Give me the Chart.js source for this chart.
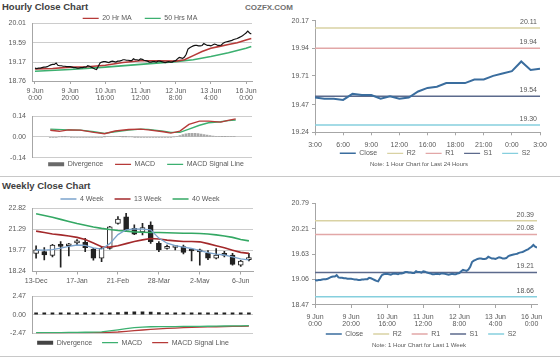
<!DOCTYPE html>
<html><head><meta charset="utf-8">
<script src="https://cdn.jsdelivr.net/npm/chart.js@4.4.1/dist/chart.umd.min.js"></script>
<style>
html,body{margin:0;padding:0;background:#fff;width:560px;height:363px;overflow:hidden;position:relative;font-family:"Liberation Sans",Arial,sans-serif}
canvas{position:absolute}
.t{position:absolute;font-weight:bold;color:#404040;font-size:9.5px;white-space:nowrap}
.sep{position:absolute;left:0;width:560px;height:1px;background:#c8c8c8}
</style></head><body>
<div class="t" style="left:2px;top:1px">Hourly Close Chart</div>
<div class="t" style="left:245px;top:3px;color:#707070;font-size:8px">COZFX.COM</div>
<div class="t" style="left:2px;top:180px">Weekly Close Chart</div>
<div class="sep" style="top:176px"></div>
<div class="sep" style="top:356px"></div>
<canvas id="cA" width="262" height="100" style="left:0;top:10px"></canvas>
<canvas id="cB" width="262" height="70" style="left:0;top:106px"></canvas>
<canvas id="cC" width="280" height="176" style="left:280px;top:0"></canvas>
<canvas id="cD" width="262" height="108" style="left:0;top:178px"></canvas>
<canvas id="cE" width="262" height="70" style="left:0;top:286px"></canvas>
<canvas id="cF" width="280" height="178" style="left:280px;top:178px"></canvas>
<script>
// ---------------- DATA ----------------
const hourClose = [
19.04,19.03,19.04,19.04,19.05,19.06,19.06,19.07,19.09,19.11,
19.12,19.12,19.15,19.10,19.09,19.09,19.08,19.08,19.07,19.07,
19.07,19.06,19.05,19.05,19.04,19.04,19.05,19.05,19.06,19.06,
19.09,19.08,19.06,19.04,19.02,19.01,19.08,19.15,19.17,19.18,
19.18,19.17,19.16,19.18,19.19,19.18,19.17,19.19,19.19,19.20,
19.22,19.22,19.21,19.21,19.20,19.20,19.24,19.22,19.22,19.21,
19.24,19.23,19.21,19.20,19.19,19.17,19.17,19.18,19.18,19.17,
19.19,19.19,19.18,19.17,19.16,19.17,19.18,19.17,19.17,19.19,
19.20,19.24,19.27,19.26,19.25,19.28,19.34,19.45,19.48,19.50,
19.52,19.53,19.53,19.52,19.52,19.53,19.57,19.55,19.53,19.53,
19.52,19.54,19.56,19.55,19.53,19.53,19.54,19.58,19.60,19.61,
19.62,19.63,19.64,19.66,19.67,19.68,19.70,19.72,19.74,19.77,
19.80,19.84,19.80,19.78];
const hourTickIdx = [0,20,40,60,80,100,120];
const hourTickLabels = [['9 Jun','0:00'],['9 Jun','20:00'],['10 Jun','16:00'],['11 Jun','12:00'],['12 Jun','8:00'],['13 Jun','4:00'],['16 Jun','0:00']];
const ma20 = [[0,19.02],[10,19.03],[20,19.06],[30,19.07],[40,19.10],[50,19.16],[60,19.20],[70,19.20],[80,19.19],[85,19.22],[90,19.31],[95,19.40],[100,19.47],[105,19.51],[110,19.55],[115,19.59],[120,19.65],[123,19.68]];
const ma50 = [[0,18.97],[20,19.01],[40,19.06],[60,19.12],[80,19.18],[90,19.22],[100,19.29],[110,19.37],[120,19.47],[123,19.51]];
const macdHour = [[0,0.045],[6,0.038],[12,0.048],[20,0.046],[29,0.031],[36,0.022],[43,0.040],[52,0.050],[60,0.053],[65,0.048],[75,0.035],[80,0.026],[86,0.039],[92,0.085],[99,0.107],[105,0.107],[113,0.100],[118,0.112],[123,0.122]];
const signalHour = [[0,0.053],[12,0.048],[20,0.046],[29,0.035],[36,0.024],[43,0.035],[52,0.046],[60,0.053],[65,0.051],[75,0.039],[80,0.031],[86,0.031],[92,0.053],[99,0.079],[105,0.096],[113,0.103],[118,0.110],[123,0.114]];
// divergence sampled every 2 hours (hour index = 2*k)
const divHour = [
-0.004,-0.003,-0.002,0.000,0.001,0.001,0.000,-0.001,-0.002,-0.003,-0.003,-0.003,-0.002,-0.002,-0.003,-0.004,-0.004,-0.002,
0.001,0.004,0.005,0.004,0.003,0.002,0.001,0.001,0.000,0.000,-0.001,-0.001,-0.002,-0.002,-0.003,-0.003,-0.003,-0.004,-0.004,-0.004,-0.004,-0.004,
-0.003,0.000,0.004,0.010,0.016,0.021,0.024,0.025,0.024,0.022,0.019,0.016,0.012,0.009,0.006,0.004,0.003,0.002,0.002,0.003,0.004,0.004];
const dayClose = [19.53,19.52,19.52,19.51,19.56,19.55,19.55,19.52,19.54,19.52,19.53,19.58,19.61,19.62,19.65,19.65,19.65,19.68,19.68,19.71,19.73,19.75,19.83,19.76,19.77];
const dayTickIdx = [0,3,6,9,12,15,18,21,24];
const dayTickLabels = ['3:00','6:00','9:00','12:00','16:00','18:00','21:00','0:00','3:00'];
const pivotNames = ['R2','R1','S1','S2'];
const pivotDay = [20.11,19.94,19.54,19.30];
const pivotWeek = [20.39,20.08,19.21,18.66];
const noteDay = 'Note: 1 Hour Chart for Last 24 Hours';
const noteWeek = 'Note: 1 Hour Chart for Last 1 Week';

const weekLabels = ['13-Dec','20-Dec','27-Dec','3-Jan','10-Jan','17-Jan','24-Jan','31-Jan','7-Feb','14-Feb','21-Feb','28-Feb','7-Mar','14-Mar','21-Mar','28-Mar','4-Apr','11-Apr','18-Apr','25-Apr','2-May','9-May','16-May','23-May','30-May','6-Jun','13-Jun'];
const weekOpen  = [19.55,19.67,19.40,20.15,20.10,20.30,20.34,19.86,19.20,19.91,21.71,22.19,21.35,21.10,21.59,20.27,19.91,19.97,20.03,19.80,19.70,19.55,19.20,19.45,19.43,18.70,19.10];
const weekHigh  = [20.10,19.96,20.20,20.40,20.27,20.55,20.63,19.91,20.03,21.50,22.20,22.43,21.60,21.71,21.83,20.40,20.15,20.10,20.15,19.90,19.85,19.75,19.90,19.70,19.55,19.05,19.55];
const weekLow   = [19.20,19.07,19.30,18.55,19.36,20.10,19.67,19.05,18.95,19.85,21.65,21.11,20.90,20.87,20.27,19.67,19.85,19.80,19.50,19.00,18.70,19.10,19.15,19.30,18.70,18.60,19.00];
const weekClose = [19.80,19.43,20.15,20.05,20.15,20.35,19.95,19.20,19.91,21.47,22.02,21.23,20.94,21.40,20.39,19.79,20.03,20.03,19.62,19.72,19.65,19.20,19.43,19.40,18.75,19.00,19.20];
const ma4w  = [19.79,19.78,19.82,19.92,20.05,20.15,20.12,19.95,19.85,20.25,20.90,21.25,21.32,21.30,21.25,20.65,20.28,20.10,20.00,19.90,19.75,19.60,19.50,19.43,19.30,19.15,19.08];
const ma13w = [21.15,21.05,20.95,20.88,20.80,20.70,20.55,20.30,20.02,20.00,20.10,20.25,20.40,20.52,20.62,20.58,20.50,20.45,20.40,20.40,20.38,20.25,20.10,19.95,19.78,19.62,19.55];
const ma40w = [22.40,22.28,22.15,22.00,21.85,21.70,21.57,21.45,21.35,21.27,21.20,21.15,21.10,21.07,21.05,21.05,21.03,21.02,21.00,21.00,20.98,20.95,20.88,20.80,20.70,20.55,20.45];
const macdWeek   = [-2.40,-2.39,-2.38,-2.37,-2.36,-2.35,-2.33,-2.32,-2.28,-2.15,-2.00,-1.85,-1.72,-1.65,-1.60,-1.58,-1.57,-1.57,-1.56,-1.55,-1.54,-1.53,-1.52,-1.50,-1.49,-1.47,-1.45];
const signalWeek = [-2.46,-2.45,-2.44,-2.43,-2.42,-2.41,-2.40,-2.39,-2.38,-2.35,-2.30,-2.22,-2.12,-2.03,-1.95,-1.88,-1.82,-1.77,-1.72,-1.68,-1.65,-1.62,-1.60,-1.58,-1.56,-1.54,-1.52];
const divWeek    = [0.06,0.06,0.06,0.06,0.06,0.06,0.07,0.07,0.10,0.20,0.30,0.37,0.40,0.38,0.35,0.30,0.25,0.20,0.16,0.13,0.11,0.09,0.08,0.08,0.07,0.07,0.07];

const yTicksA = [18.76,19.17,19.59,20.01];
const yTicksB = [-0.14,0.00,0.14];
const yTicksC = [19.24,19.47,19.71,19.94,20.17];
const yTicksD = [18.24,19.77,21.29,22.82];
const yTicksE = [-2.47,0.00,2.47];
const yTicksF = [18.47,19.06,19.63,20.21,20.79];

// ---------------- STYLE ----------------
const FONT = '"Liberation Sans", Arial, sans-serif';
Chart.defaults.font.family = FONT;
Chart.defaults.font.size = 7;
Chart.defaults.color = '#595959';
Chart.defaults.animation = false;
const GRID = '#cccccc', AXIS = '#a6a6a6', TXT = '#595959';
const RED = '#b63a38', GREEN = '#3cb070', BLUE = '#3a6d9e';
const pivotColors = ['#d9d2a3','#e2a7a7','#5c6a8c','#86cfde'];

function place(cfg) {
  return { id: 'place', afterLayout(chart) {
    const lg = chart.legend;
    if (lg && cfg.legend) {
      const w = lg.right - lg.left, p = lg.options.labels.padding;
      lg.left = cfg.legend.cx - w / 2; lg.right = lg.left + w; lg.width = w;
      lg.top = cfg.legend.cy - p - 3.5; lg.bottom = lg.top + 2 * p + 10; lg.height = lg.bottom - lg.top;
    }
    const tb = chart.titleBlock;
    if (tb && cfg.title) {
      const w = tb.right - tb.left;
      tb.left = cfg.title.cx - w / 2; tb.right = tb.left + w; tb.width = w;
      tb.top = cfg.title.cy - tb.height / 2; tb.bottom = tb.top + tb.height;
    }
  }};
}
const pivotLabels = { id: 'pivotLabels', afterDatasetsDraw(chart) {
  const {ctx, chartArea, scales} = chart;
  ctx.save(); ctx.font = '7px ' + FONT; ctx.fillStyle = TXT; ctx.textAlign = 'right'; ctx.textBaseline = 'middle';
  chart.data.datasets.forEach(ds => { if (ds.pivot != null) ctx.fillText(ds.pivot.toFixed(2), chartArea.right - 3, scales.y.getPixelForValue(ds.pivot) - 6); });
  ctx.restore();
}};
function legend(position, pad) {
  return { display: true, position, fullSize: true, maxHeight: 0.001,
    labels: { usePointStyle: true, pointStyle: 'line', pointStyleWidth: 16, boxHeight: 7, padding: pad, color: TXT, font: {size: 7},
      generateLabels: chart => chart.data.datasets.map((ds, i) => ({
        text: ds.label, datasetIndex: i, hidden: false, pointStyle: 'line',
        strokeStyle: ds.legendColor || ds.borderColor, fillStyle: ds.legendColor || ds.borderColor,
        lineWidth: ds.legendWidth || 1.3, fontColor: TXT })).filter(it => it.text) } };
}
function yAxis(ticksArr, w, pad, pivotStyle) {
  return { type: 'linear', min: ticksArr[0], max: ticksArr[ticksArr.length - 1],
    afterBuildTicks: s => { s.ticks = ticksArr.map(v => ({value: v})); },
    afterFit: s => { s.width = w; },
    ticks: { callback: v => Number(v).toFixed(2), padding: pad, color: TXT, font: {size: 7} },
    grid: pivotStyle ? { drawOnChartArea: false, drawTicks: true, tickLength: 3, color: AXIS } : { color: GRID, drawTicks: false },
    border: { display: true, color: AXIS } };
}
function xLinear(min, max, idx, labels, h, pad, show) {
  return { type: 'linear', min, max,
    afterBuildTicks: s => { s.ticks = idx.map(v => ({value: v})); },
    afterFit: s => { s.height = h; },
    ticks: { display: show, autoSkip: false, maxRotation: 0, padding: pad, color: TXT, font: {size: 7, lineHeight: 1.05},
      callback: v => labels[idx.indexOf(v)] },
    grid: { display: show, drawOnChartArea: false, drawTicks: true, tickLength: 3, color: AXIS },
    border: { display: show, color: AXIS } };
}
function xWeek(h, pad, show) {
  return { type: 'category', labels: weekLabels, offset: true,
    afterBuildTicks: s => { s.ticks = s.ticks.filter(t => t.value % 5 === 0); },
    afterFit: s => { s.height = h; },
    ticks: { display: show, autoSkip: false, maxRotation: 0, padding: pad, color: TXT, font: {size: 7} },
    grid: { display: show, offset: false, drawOnChartArea: false, drawTicks: true, tickLength: 3, color: AXIS },
    border: { display: show, color: AXIS } };
}
const pts = arr => arr.map(p => ({x: p[0], y: p[1]}));
const base = (padding, scales, plugins) => ({ responsive: false, devicePixelRatio: 1, animation: false,
  layout: { padding }, scales, plugins: Object.assign({ tooltip: { enabled: false } }, plugins),
  elements: { point: { radius: 0 }, line: { tension: 0 } } });

// ---------------- A: hourly close + MAs ----------------
new Chart(document.getElementById('cA'), {
  type: 'line',
  data: { datasets: [
    { label: '', data: hourClose.map((v, i) => ({x: i, y: v})), borderColor: '#111', borderWidth: 1.2 },
    { label: '20 Hr MA', data: pts(ma20), borderColor: RED, borderWidth: 1.6 },
    { label: '50 Hrs MA', data: pts(ma50), borderColor: GREEN, borderWidth: 1.6 } ] },
  options: base({left: 0, right: 10, top: 13.3, bottom: 1},
    { x: xLinear(-1.7, 123.4, hourTickIdx, hourTickLabels, 28, 3.2, true), y: yAxis(yTicksA, 32, 6) },
    { legend: legend('top', 13) }),
  plugins: [place({legend: {cx: 140, cy: 8.3}})]
});

// ---------------- B: hourly MACD ----------------
new Chart(document.getElementById('cB'), {
  type: 'line',
  data: { datasets: [
    { type: 'bar', label: 'Divergence', data: divHour.map((v, k) => ({x: 2 * k, y: v})), backgroundColor: '#a8a8a8', barThickness: 2, legendColor: '#6a6a6a', legendWidth: 4 },
    { label: 'MACD', data: pts(macdHour), borderColor: RED, borderWidth: 1.4 },
    { label: 'MACD Signal Line', data: pts(signalHour), borderColor: GREEN, borderWidth: 1.4 } ] },
  options: base({left: 0, right: 10, top: 9, bottom: 18.3},
    { x: xLinear(-1.7, 123.4, hourTickIdx, hourTickLabels, 0, 0, false), y: yAxis(yTicksB, 32, 6) },
    { legend: legend('bottom', 12) }),
  plugins: [place({legend: {cx: 146, cy: 58.3}})]
});

// ---------------- C: last 24 hours with pivots ----------------
new Chart(document.getElementById('cC'), {
  type: 'line',
  data: { datasets: [
    { label: 'Close', data: dayClose.map((v, i) => ({x: i, y: v})), borderColor: BLUE, borderWidth: 2, legendWidth: 1.5 },
    ...pivotNames.map((n, k) => ({ label: n, data: [{x: 0, y: pivotDay[k]}, {x: 24, y: pivotDay[k]}], borderColor: pivotColors[k], borderWidth: 1.5, pivot: pivotDay[k] })) ] },
  options: base({left: 5, right: 20, top: 20.7, bottom: 17.7},
    { x: xLinear(0, 24, dayTickIdx, dayTickLabels, 20, 6.2, true), y: yAxis(yTicksC, 30, 3, true) },
    { legend: legend('bottom', 10), title: { display: true, text: noteDay, position: 'bottom', padding: 0, color: TXT, font: {size: 6, lineHeight: 1, weight: 'normal'} } }),
  plugins: [place({legend: {cx: 155, cy: 153.3}, title: {cx: 139, cy: 164.3}}), pivotLabels]
});

// ---------------- D: weekly candles + MAs ----------------
new Chart(document.getElementById('cD'), {
  type: 'bar',
  data: { labels: weekLabels, datasets: [
    { type: 'line', label: '4 Week', data: ma4w, borderColor: '#7ba3cc', borderWidth: 1.3 },
    { type: 'line', label: '13 Week', data: ma13w, borderColor: '#a3292b', borderWidth: 1.6 },
    { type: 'line', label: '40 Week', data: ma40w, borderColor: '#34a864', borderWidth: 1.6 },
    { type: 'bar', label: '', data: weekOpen.map((o, i) => [Math.min(o, weekClose[i]), Math.max(o, weekClose[i])]),
      backgroundColor: weekOpen.map((o, i) => weekClose[i] >= o ? '#ffffff' : '#222222'), borderColor: '#222', borderWidth: 1, borderSkipped: false, barThickness: 5, grouped: false, minBarLength: 2 },
    { type: 'bar', label: '', data: weekLow.map((l, i) => [l, weekHigh[i]]), backgroundColor: '#222', barThickness: 1, grouped: false } ] },
  options: base({left: 0, right: 9, top: 30, bottom: 2.5},
    { x: xWeek(12, 2, true), y: yAxis(yTicksD, 32, 6) },
    { legend: legend('top', 11) }),
  plugins: [place({legend: {cx: 140, cy: 21}})]
});

// ---------------- E: weekly MACD ----------------
new Chart(document.getElementById('cE'), {
  type: 'bar',
  data: { labels: weekLabels, datasets: [
    { type: 'bar', label: 'Divergence', data: divWeek, backgroundColor: '#222', barThickness: 3, minBarLength: 2, legendColor: '#444', legendWidth: 4 },
    { type: 'line', label: 'MACD', data: macdWeek, borderColor: GREEN, borderWidth: 1.3 },
    { type: 'line', label: 'MACD Signal Line', data: signalWeek, borderColor: RED, borderWidth: 1.3 } ] },
  options: base({left: 0, right: 9, top: 9, bottom: 22.7},
    { x: xWeek(0, 0, false), y: yAxis(yTicksE, 32, 6) },
    { legend: legend('bottom', 10) }),
  plugins: [place({legend: {cx: 133, cy: 56.7}})]
});

// ---------------- F: last week hourly with pivots ----------------
new Chart(document.getElementById('cF'), {
  type: 'line',
  data: { datasets: [
    { label: 'Close', data: hourClose.map((v, i) => ({x: i, y: v})), borderColor: BLUE, borderWidth: 2, legendWidth: 1.5 },
    ...pivotNames.map((n, k) => ({ label: n, data: [{x: 0, y: pivotWeek[k]}, {x: 123, y: pivotWeek[k]}], borderColor: pivotColors[k], borderWidth: 1.5, pivot: pivotWeek[k] })) ] },
  options: base({left: 5, right: 23, top: 25.3, bottom: 19},
    { x: xLinear(0, 123, hourTickIdx, hourTickLabels, 26, 5, true), y: yAxis(yTicksF, 30, 3, true) },
    { legend: legend('bottom', 10), title: { display: true, text: noteWeek, position: 'bottom', padding: 0, color: TXT, font: {size: 6, lineHeight: 1, weight: 'normal'} } }),
  plugins: [place({legend: {cx: 141, cy: 156}, title: {cx: 139, cy: 167}}), pivotLabels]
});
</script>
</body></html>
